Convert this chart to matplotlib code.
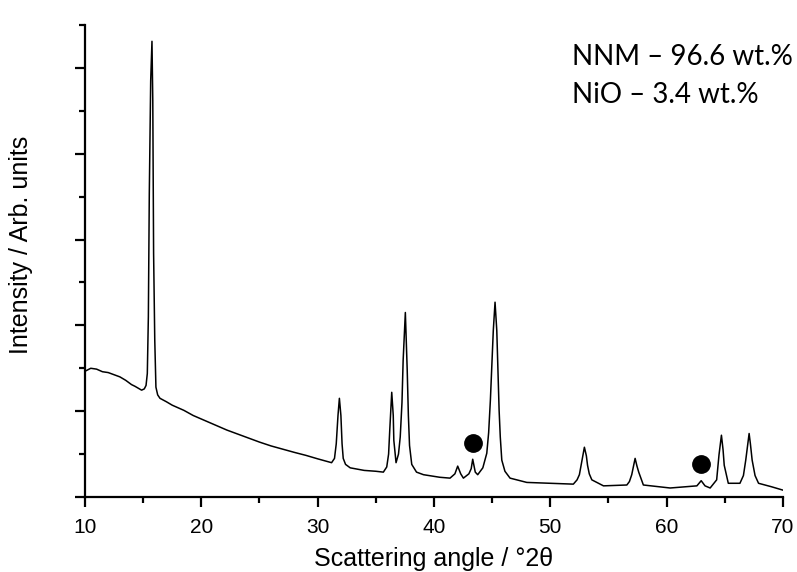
import matplotlib
matplotlib.use("Agg")
import matplotlib.pyplot as plt
from matplotlib.ticker import MultipleLocator, NullFormatter

# XRD pattern (angle in deg 2theta, intensity in arb. units)
angle = [10.0, 10.5, 11.0, 11.5, 12.0, 12.6, 13.0, 13.5, 14.0, 14.3, 14.87, 15.1, 15.25,
         15.36, 15.45, 15.53, 15.65, 15.76, 15.83, 15.9, 16.0, 16.1, 16.25, 16.45, 17.0,
         17.5, 18.5, 19.3, 20.5, 22.2, 23.2, 24.2, 25.0, 26.0, 27.05, 28.0, 29.0, 30.0,
         31.2, 31.45, 31.6, 31.75, 31.87, 32.0, 32.1, 32.2, 32.4, 32.8, 34.0, 35.0, 35.65,
         35.94, 36.1, 36.2, 36.37, 36.5, 36.55, 36.74, 36.95, 37.1, 37.25, 37.35, 37.54,
         37.7, 37.8, 37.9, 38.09, 38.5, 39.1, 40.5, 41.38, 41.8, 42.04, 42.3, 42.53, 43.0,
         43.2, 43.33, 43.55, 43.76, 44.2, 44.54, 44.7, 44.85, 45.1, 45.25, 45.4, 45.6,
         45.7, 45.83, 46.1, 46.54, 47.98, 50.0, 51.98, 52.3, 52.5, 52.75, 52.93, 53.1,
         53.2, 53.35, 53.57, 54.57, 56.58, 56.8, 57.0, 57.29, 57.45, 57.6, 58.0, 60.3,
         62.6, 62.97, 63.3, 63.74, 64.3, 64.5, 64.71, 64.85, 64.95, 65.3, 66.3, 66.6,
         66.8, 67.09, 67.2, 67.35, 67.6, 67.9, 69.0, 70.0]
intensity = [1.465, 1.50, 1.49, 1.46, 1.45, 1.42, 1.40, 1.36, 1.31, 1.29, 1.245, 1.26, 1.30,
             1.44, 2.10, 3.53, 4.85, 5.31, 4.62, 2.84, 1.83, 1.28, 1.19, 1.15, 1.11,
             1.07, 1.01, 0.95, 0.88, 0.78, 0.73, 0.68, 0.64, 0.595, 0.555, 0.52, 0.485, 0.445,
             0.40, 0.45, 0.62, 0.95, 1.15, 0.95, 0.62, 0.45, 0.38, 0.34, 0.31, 0.30, 0.29,
             0.35, 0.50, 0.78, 1.22, 0.95, 0.66, 0.40, 0.50, 0.70, 1.10, 1.59, 2.15,
             1.48, 0.95, 0.60, 0.38, 0.29, 0.26, 0.23, 0.22, 0.27, 0.36, 0.27, 0.22, 0.27,
             0.33, 0.44, 0.29, 0.26, 0.34, 0.51, 0.75, 1.13, 1.94, 2.27, 1.94, 1.01,
             0.70, 0.43, 0.30, 0.22, 0.17, 0.16, 0.15, 0.20, 0.26, 0.45, 0.58, 0.48,
             0.37, 0.27, 0.20, 0.13, 0.14, 0.18, 0.26, 0.45, 0.36, 0.29, 0.14, 0.105,
             0.13, 0.19, 0.13, 0.105, 0.20, 0.49, 0.72, 0.55, 0.37, 0.16, 0.16, 0.25,
             0.43, 0.74, 0.62, 0.43, 0.25, 0.16, 0.12, 0.08]

# NiO reflections marked with dots
nio_angle = [43.33, 62.94]
nio_mark = [0.63, 0.384]

plt.rcParams['font.family'] = ['Liberation Sans', 'DejaVu Sans']

fig = plt.figure(figsize=(7.97, 5.72), dpi=100)
ax = fig.add_axes([0.1066, 0.1311, 0.8758, 0.8252])

ax.plot(angle, intensity, color='black', lw=1.1)
ax.plot(nio_angle, nio_mark, 'o', color='black', markersize=12.5)

ax.set_xlim(10, 70)
ax.set_ylim(0, 5.5)
ax.xaxis.set_major_locator(MultipleLocator(10))
ax.xaxis.set_minor_locator(MultipleLocator(5))
ax.yaxis.set_major_locator(MultipleLocator(1))
ax.yaxis.set_minor_locator(MultipleLocator(0.5))
ax.yaxis.set_major_formatter(NullFormatter())

for s in ['top', 'right']:
    ax.spines[s].set_visible(False)
for s in ['left', 'bottom']:
    ax.spines[s].set_linewidth(1.6)

ax.tick_params(axis='both', which='major', direction='out', width=1.6, length=7)
ax.tick_params(axis='both', which='minor', direction='out', width=1.6, length=4)
ax.tick_params(axis='x', labelsize=15, pad=8)

ax.set_xlabel('Scattering angle / °2θ', fontsize=18)
ax.xaxis.set_label_coords(0.5, -0.105)
ax.set_ylabel('Intensity / Arb. units', fontsize=18)
ax.yaxis.set_label_coords(-0.075, 0.535)

fig.text(0.7177, 0.886, 'NNM – 96.6 wt.%', fontsize=20, family=['Lato', 'DejaVu Sans'])
fig.text(0.7177, 0.82, 'NiO – 3.4 wt.%', fontsize=20, family=['Lato', 'DejaVu Sans'])

fig.savefig('out.png', dpi=100)
